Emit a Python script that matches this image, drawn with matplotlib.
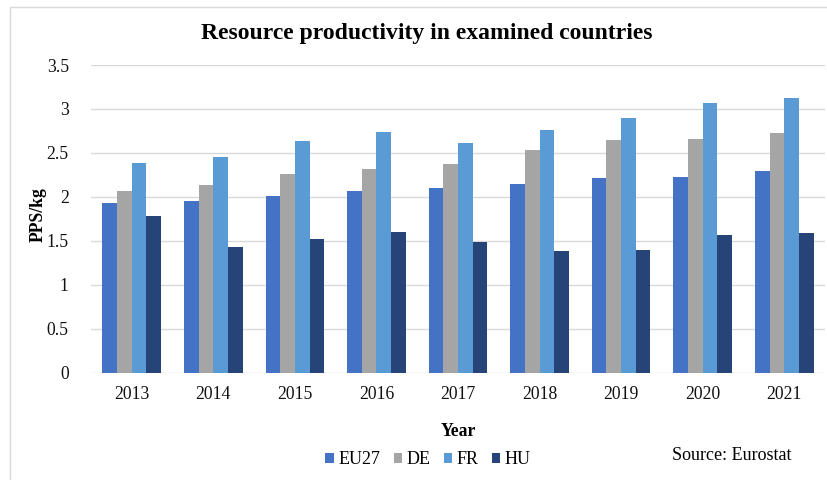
import numpy as np
import matplotlib.pyplot as plt
from matplotlib.patches import Rectangle

years = ["2013", "2014", "2015", "2016", "2017", "2018", "2019", "2020", "2021"]
countries = ["EU27", "DE", "FR", "HU"]
eu27 = [1.93, 1.95, 2.01, 2.07, 2.10, 2.14, 2.21, 2.22, 2.29]
de = [2.07, 2.13, 2.26, 2.32, 2.37, 2.53, 2.65, 2.66, 2.73]
fr = [2.39, 2.45, 2.64, 2.74, 2.61, 2.76, 2.90, 3.07, 3.13]
hu = [1.78, 1.43, 1.52, 1.60, 1.48, 1.38, 1.40, 1.56, 1.59]
colors = ["#4472C4", "#A5A5A5", "#5B9BD5", "#264478"]

plt.rcParams['font.family'] = ['Liberation Serif', 'DejaVu Serif']

fig = plt.figure(figsize=(8.28, 4.8), dpi=100)
ax = fig.add_axes([91 / 828, 1 - 372.5 / 480, (825 - 91) / 828, (372.5 - 65) / 480])

# light chart-area border
fig.patches.append(Rectangle((10 / 828, -0.1), 1.2, 1 - 7 / 480 + 0.1,
                             transform=fig.transFigure, fill=False,
                             edgecolor="#D9D9D9", linewidth=1.0))

x = np.arange(len(years))
w = 0.18
for i, (vals, name) in enumerate(zip([eu27, de, fr, hu], countries)):
    ax.bar(x + (i - 1.5) * w, vals, width=w, color=colors[i], label=name, zorder=3)

ax.set_xlim(-0.5, len(years) - 0.5)
ax.set_ylim(0, 3.5)
ax.set_yticks(np.arange(0, 3.51, 0.5))
ax.set_yticklabels(["0", "0.5", "1", "1.5", "2", "2.5", "3", "3.5"])
ax.set_xticks(x)
ax.set_xticklabels(years)
ax.tick_params(axis='both', length=0, labelsize=12.7, colors="#111111")
ax.tick_params(axis='y', pad=16)
ax.tick_params(axis='x', pad=10)
ax.grid(axis='y', color="#D9D9D9", linewidth=1.0, zorder=0)
for s in ax.spines.values():
    s.set_visible(False)

fig.text(427 / 828, 1 - 33 / 480, "Resource productivity in examined countries",
         ha='center', va='center', fontsize=17, fontweight='bold')
fig.text(38 / 828, 1 - 215 / 480, "PPS/kg", rotation=90, ha='center', va='center',
         fontsize=12.7, fontweight='bold')
fig.text(458 / 828, 1 - 432 / 480, "Year", ha='center', va='center',
         fontsize=12.7, fontweight='bold')
fig.text(672 / 828, 1 - 455 / 480, "Source: Eurostat", ha='left', va='center',
         fontsize=13)

fig.legend(loc='center', bbox_to_anchor=(428 / 828, 1 - 460 / 480), ncol=4,
           frameon=False, fontsize=13, handlelength=0.45, handleheight=0.45,
           handletextpad=0.25, columnspacing=0.75)

fig.savefig("out.png", dpi=100)
